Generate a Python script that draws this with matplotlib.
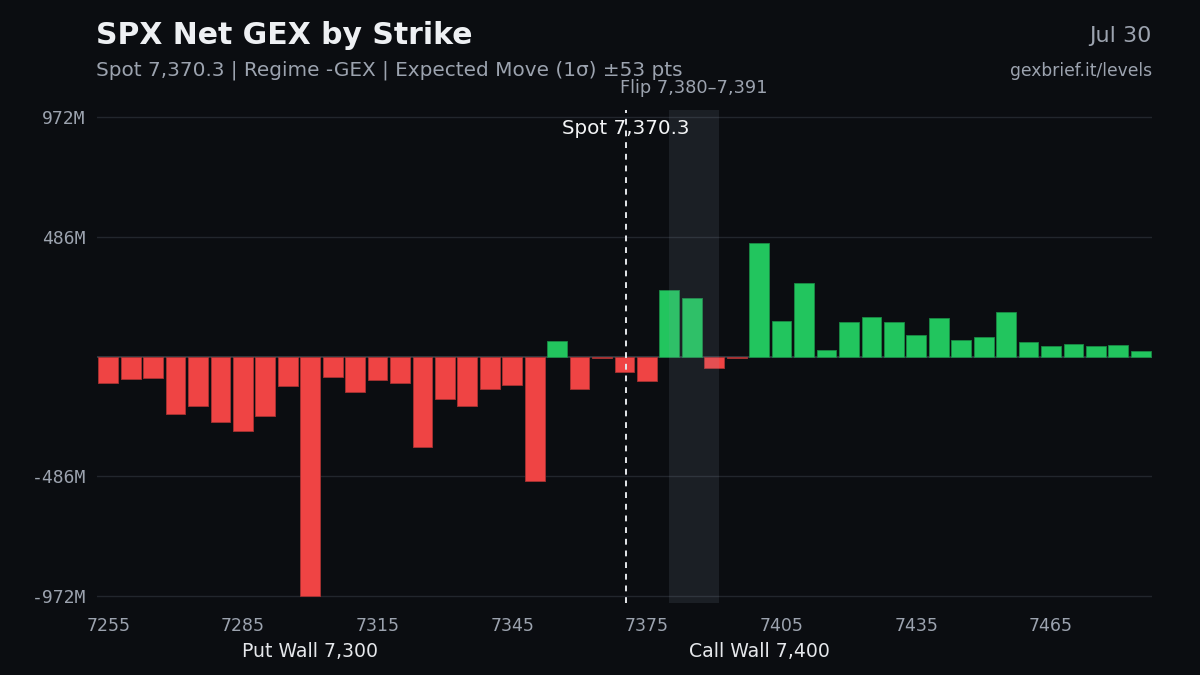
import matplotlib
matplotlib.use("Agg")
import matplotlib.pyplot as plt
import numpy as np

# net GEX per strike, millions
strikes = list(range(7255, 7490, 5))
gex = [-109, -93, -89, -234, -201, -265, -302, -241, -121, -972,
       -83, -144, -94, -106, -368, -171, -201, -132, -114, -508,
       65, -131, -5, -64, -101, 270, 236, -45, -8, 463,
       146, 297, 27, 140, 159, 140, 86, 155, 69, 79,
       180, 57, 44, 52, 44, 48, 23]
xticks = [7255, 7285, 7315, 7345, 7375, 7405, 7435, 7465]
yticks = [-972, -486, 486, 972]
ytick_labels = ["-972M", "-486M", "486M", "972M"]
spot = 7370.3
flip_lo, flip_hi = 7380, 7391
put_wall = 7300
call_wall = 7400

bg = "#0b0d11"
red = "#ef4444"
green = "#22c55e"
grid_c = "#22262d"
muted = "#9ca3af"
light = "#e5e7eb"

fig = plt.figure(figsize=(12, 6.75), dpi=100, facecolor=bg)
ax = fig.add_axes([0.0808, 0.1067, 0.96 - 0.0808, 0.837 - 0.1067])
ax.set_facecolor(bg)

colors = [green if v >= 0 else red for v in gex]
edges = ["#1a8a45" if v >= 0 else "#a83232" for v in gex]
ax.bar(strikes, gex, width=4.4, color=colors, edgecolor=edges, linewidth=0.6, zorder=3)

ax.axhline(0, color="#3a3f47", linewidth=1.2, zorder=2)
for y in yticks:
    ax.axhline(y, color=grid_c, linewidth=1, zorder=1)

# flip zone band
ax.axvspan(flip_lo, flip_hi, ymin=0, ymax=1, color="#94a3b8", alpha=0.12, linewidth=0, zorder=5)
ax.text((flip_lo + flip_hi) / 2, 1.045, "Flip 7,380\u20137,391", transform=ax.get_xaxis_transform(),
        ha="center", va="center", color=muted, fontsize=12.8)

# spot line
ax.axvline(spot, color=light, linestyle=(0, (3, 3)), linewidth=1.4, zorder=6)
ax.text(spot, 0.963, "Spot 7,370.3", transform=ax.get_xaxis_transform(),
        ha="center", va="center", color="#f3f4f6", fontsize=14.3, zorder=7)

ax.set_xlim(7252.5, 7487.5)
ax.set_ylim(-1002, 1002)
ax.set_xticks(xticks)
ax.set_xticklabels([str(t) for t in xticks])
ax.set_yticks(yticks)
ax.set_yticklabels(ytick_labels, family="DejaVu Sans Mono")
ax.tick_params(axis="x", length=0, colors=muted, labelsize=12.5, pad=10)
ax.tick_params(axis="y", length=0, colors=muted, labelsize=13, pad=8)
for s in ax.spines.values():
    s.set_visible(False)

ax.text(put_wall, -0.098, "Put Wall 7,300", transform=ax.get_xaxis_transform(),
        ha="center", va="center", color=light, fontsize=13.6)
ax.text(call_wall, -0.098, "Call Wall 7,400", transform=ax.get_xaxis_transform(),
        ha="center", va="center", color=light, fontsize=13.6)

fig.text(0.08, 0.948, "SPX Net GEX by Strike", color="#eef0f3", fontsize=21.5,
         fontweight="bold", ha="left", va="center")
fig.text(0.08, 0.896, "Spot 7,370.3 | Regime -GEX | Expected Move (1\u03c3) \u00b153 pts",
         color=muted, fontsize=14.4, ha="left", va="center")
fig.text(0.96, 0.947, "Jul 30", color=muted, fontsize=16, ha="right", va="center")
fig.text(0.96, 0.895, "gexbrief.it/levels", color=muted, fontsize=12.3, ha="right", va="center")

fig.savefig("out.png", dpi=100, facecolor=bg)
